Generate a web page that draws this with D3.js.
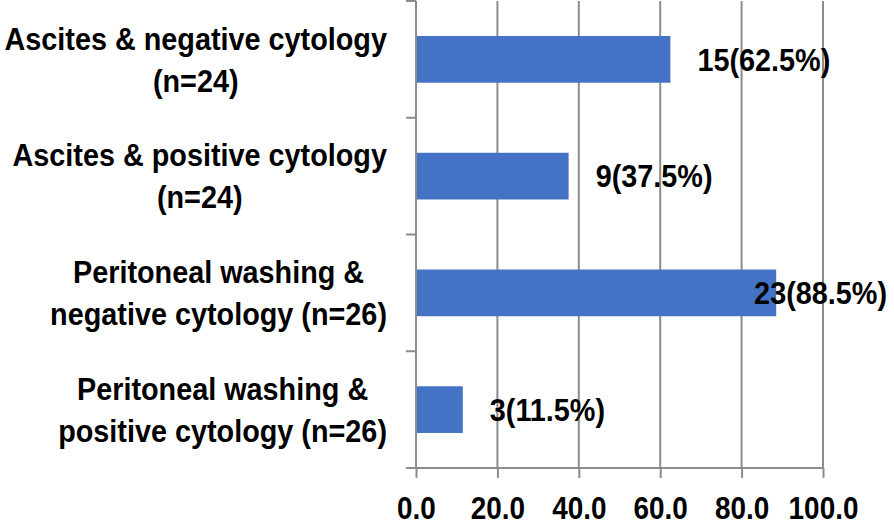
<!DOCTYPE html>
<html>
<head>
<meta charset="utf-8">
<script src="https://cdn.jsdelivr.net/npm/d3@7"></script>
<style>
  html, body { margin: 0; padding: 0; background: #fff; }
  text { font-family: "Liberation Sans", Arial, sans-serif; font-weight: bold; fill: #000; }
</style>
</head>
<body>
<div id="chart"></div>
<script>
// Data
const categories = [
  ["Ascites & negative cytology", "(n=24)"],
  ["Ascites & positive cytology", "(n=24)"],
  ["Peritoneal washing &", "negative cytology (n=26)"],
  ["Peritoneal washing &", "positive cytology (n=26)"],
];
const counts = [15, 9, 23, 3];
const percents = [62.5, 37.5, 88.5, 11.5];
const xTicks = [0, 20, 40, 60, 80, 100];

// Layout
const width = 894;
const height = 524;
const plot = { left: 416, right: 823, top: 1, bottom: 468 };
const fontSize = 32;
const squeeze = 0.9; // the original font is a condensed one
const lineGap = 42;
const gridColor = "#8c8c8c";

const svg = d3
  .select("#chart")
  .append("svg")
  .attr("width", width)
  .attr("height", height);

const x = d3.scaleLinear().domain([0, 100]).range([plot.left, plot.right]);
const y = d3
  .scaleBand()
  .domain(d3.range(categories.length))
  .range([plot.top, plot.bottom])
  .paddingInner(0.6)
  .paddingOuter(0.3);

// Vertical gridlines
svg
  .append("g")
  .selectAll("line")
  .data(xTicks.slice(1))
  .enter()
  .append("line")
  .attr("x1", (d) => x(d))
  .attr("x2", (d) => x(d))
  .attr("y1", plot.top)
  .attr("y2", plot.bottom)
  .attr("stroke", gridColor)
  .attr("stroke-width", 2);

// Bars
svg
  .append("g")
  .selectAll("rect")
  .data(percents)
  .enter()
  .append("rect")
  .attr("x", x(0))
  .attr("y", (d, i) => y(i))
  .attr("width", (d) => x(d) - x(0))
  .attr("height", y.bandwidth())
  .attr("fill", "#4472c4");

// X axis
const xAxis = svg
  .append("g")
  .attr("transform", `translate(0,${plot.bottom})`)
  .call(
    d3
      .axisBottom(x)
      .tickValues(xTicks)
      .tickSize(10)
      .tickPadding(0)
      .tickFormat(d3.format(".1f")),
  );
xAxis.select(".domain").remove();
xAxis.selectAll(".tick line").attr("stroke", gridColor).attr("stroke-width", 2);
xAxis
  .selectAll(".tick text")
  .attr("font-size", fontSize - 1)
  .attr("y", 51)
  .attr("dy", 0)
  .attr("transform", `scale(${squeeze},1)`);
svg
  .append("line")
  .attr("x1", plot.left - 10)
  .attr("x2", plot.right)
  .attr("y1", plot.bottom)
  .attr("y2", plot.bottom)
  .attr("stroke", gridColor)
  .attr("stroke-width", 2);

// Y axis line + category separators
svg
  .append("line")
  .attr("x1", plot.left)
  .attr("x2", plot.left)
  .attr("y1", plot.top)
  .attr("y2", plot.bottom)
  .attr("stroke", gridColor)
  .attr("stroke-width", 2);
const step = y.step();
svg
  .append("g")
  .selectAll("line")
  .data(d3.range(categories.length + 1))
  .enter()
  .append("line")
  .attr("x1", plot.left - 10)
  .attr("x2", plot.left)
  .attr("y1", (i) => plot.top + i * step)
  .attr("y2", (i) => plot.top + i * step)
  .attr("stroke", gridColor)
  .attr("stroke-width", 2);

// Category labels: block right-aligned, each line centered in block
const labelRight = 387;
categories.forEach((lines, i) => {
  const cy = y(i) + y.bandwidth() / 2;
  const g = svg.append("g");
  const texts = lines.map((t, k) =>
    g
      .append("text")
      .attr("font-size", fontSize)
      .attr("text-anchor", "middle")
      .attr("dy", "0.35em")
      .datum(cy + (k - (lines.length - 1) / 2) * lineGap)
      .text(t),
  );
  const maxW = d3.max(texts, (t) => t.node().getComputedTextLength()) * squeeze;
  texts.forEach((t) =>
    t.attr(
      "transform",
      (ty) => `translate(${labelRight - maxW / 2},${ty}) scale(${squeeze},1)`,
    ),
  );
});

// Value labels
svg
  .append("g")
  .selectAll("text")
  .data(percents)
  .enter()
  .append("text")
  .attr("font-size", fontSize)
  .attr("dy", "0.35em")
  .text((d, i) => `${counts[i]}(${d.toFixed(1)}%)`)
  .each(function (d, i) {
    const w = this.getComputedTextLength() * squeeze;
    const start = Math.min(x(d) + 27, width - 7 - w);
    const cy = y(i) + y.bandwidth() / 2;
    d3.select(this).attr(
      "transform",
      `translate(${start},${cy}) scale(${squeeze},1)`,
    );
  });
</script>
</body>
</html>
